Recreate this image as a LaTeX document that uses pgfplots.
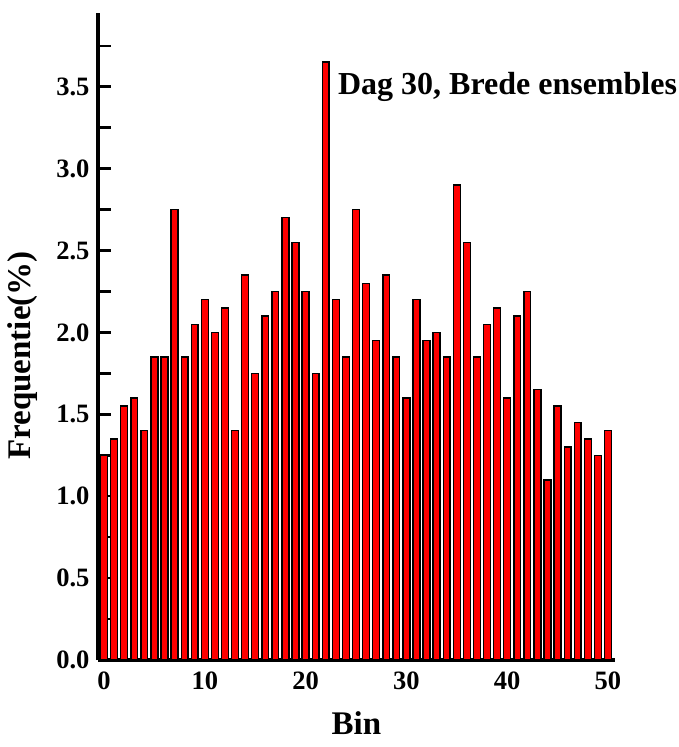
\documentclass[border=0pt]{standalone}
\usepackage{pgfplots}
\pgfplotsset{compat=1.18}
\usepackage{fontspec}
\setmainfont{Liberation Serif}
\begin{document}
\begin{tikzpicture}
\begin{axis}[
  name=ax,
  scale only axis,
  width=517pt, height=647pt,
  xmin=-0.6, xmax=50.7, ymin=0, ymax=3.95,
  axis lines=left,
  axis line style={line width=3.5pt, -},
  tick style={line width=2.5pt, black},
  tick align=inside,
  xtick={0,10,20,30,40,50},
  minor xtick={5,15,25,35,45},
  ytick={0,0.5,1,1.5,2,2.5,3,3.5},
  minor ytick={0.25,0.75,1.25,1.75,2.25,2.75,3.25,3.75},
  major tick length=13pt,
  minor tick length=13pt,
  yticklabel style={/pgf/number format/fixed, /pgf/number format/fixed zerofill, /pgf/number format/precision=1, xshift=-5pt},
  xticklabel style={yshift=-8pt},
  /pgf/number format/assume math mode=true,
  tick label style={font=\fontsize{26.5}{30}\selectfont\bfseries},
  xlabel={Bin},
  ylabel={Frequentie(\%)},
  every axis x label/.style={at={([yshift=-63pt]axis description cs:0.5,0)}, anchor=center, font=\fontsize{33}{38}\selectfont\bfseries},
  every axis y label/.style={at={([xshift=-75pt,yshift=-19pt]axis description cs:0,0.5)}, rotate=90, anchor=center, font=\fontsize{33}{38}\selectfont\bfseries},
  clip=false,
]
\addplot[ybar, bar width=0.68, fill=red, draw=black, line width=1.4pt] coordinates {
(0,1.25) (1,1.35) (2,1.55) (3,1.60) (4,1.40) (5,1.85) (6,1.85) (7,2.75) (8,1.85) (9,2.05)
(10,2.20) (11,2.00) (12,2.15) (13,1.40) (14,2.35) (15,1.75) (16,2.10) (17,2.25) (18,2.70) (19,2.55)
(20,2.25) (21,1.75) (22,3.65) (23,2.20) (24,1.85) (25,2.75) (26,2.30) (27,1.95) (28,2.35) (29,1.85)
(30,1.60) (31,2.20) (32,1.95) (33,2.00) (34,1.85) (35,2.90) (36,2.55) (37,1.85) (38,2.05) (39,2.15)
(40,1.60) (41,2.10) (42,2.25) (43,1.65) (44,1.10) (45,1.55) (46,1.30) (47,1.45) (48,1.35) (49,1.25)
(50,1.40)
};
\node[anchor=west, font=\fontsize{32}{36}\selectfont\bfseries, inner sep=0pt] at (axis cs:23.2,3.5) {Dag 30, Brede ensembles};
\end{axis}
\pgfresetboundingbox
\path ([shift={(-98pt,-87pt)}]ax.south west) rectangle ([shift={(64pt,13pt)}]ax.north east);
\end{tikzpicture}
\end{document}
